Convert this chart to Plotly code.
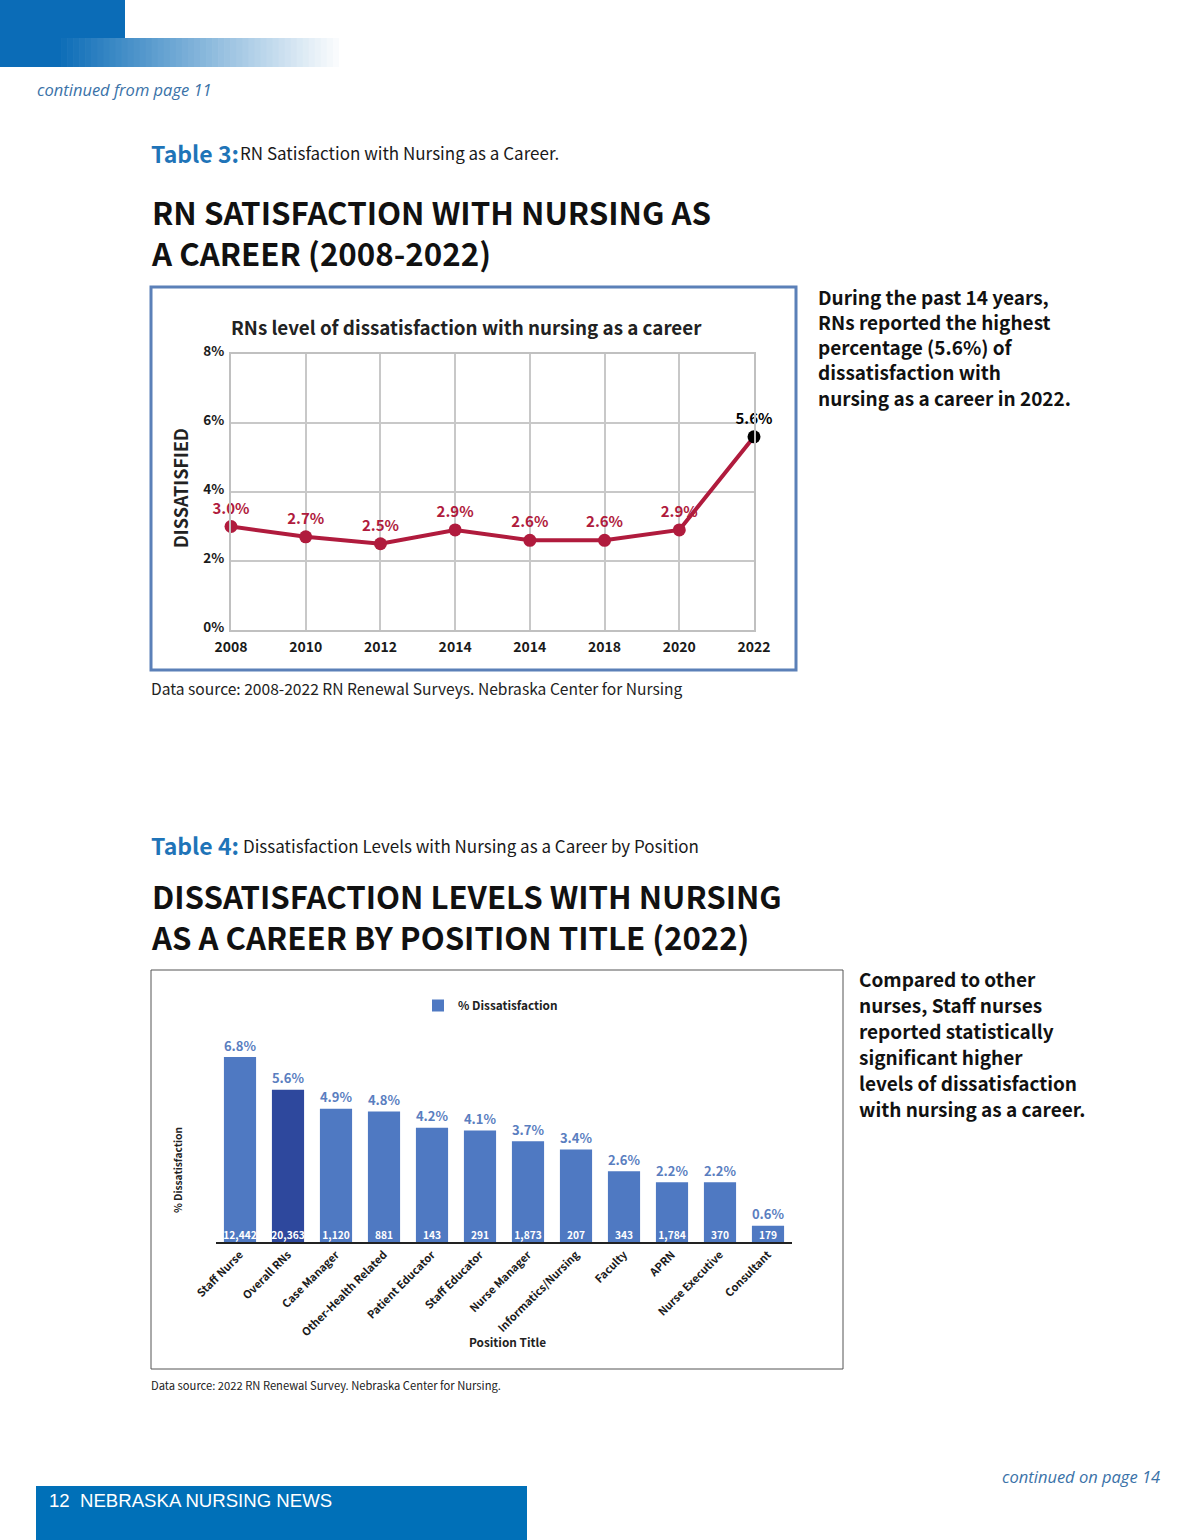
import plotly.graph_objects as go

# ---------------- data ----------------
year_labels = ["2008", "2010", "2012", "2014", "2014", "2018", "2020", "2022"]
dissatisfied_pct = [3.0, 2.7, 2.5, 2.9, 2.6, 2.6, 2.9, 5.6]
y_ticks_line = [0, 2, 4, 6, 8]

positions = ["Staff Nurse", "Overall RNs", "Case Manager", "Other-Health Related",
             "Patient Educator", "Staff Educator", "Nurse Manager", "Informatics/Nursing",
             "Faculty", "APRN", "Nurse Executive", "Consultant"]
position_pct = [6.8, 5.6, 4.9, 4.8, 4.2, 4.1, 3.7, 3.4, 2.6, 2.2, 2.2, 0.6]
position_n = [12442, 20363, 1120, 881, 143, 291, 1873, 207, 343, 1784, 370, 179]

W, H = 1200, 1540
def px(x): return x / W
def py(y): return 1 - y / H

SRC = "Noto Sans CJK SC, Noto Sans, sans-serif"
RED = "#b01b3d"
BLUE_LIGHT = "#4f79c2"
BLUE_DARK = "#2e489d"
LABEL_BLUE = "#5a7ebf"

fig = go.Figure()

# ---------------- line chart ----------------
xi = list(range(len(year_labels)))
marker_colors = [RED] * (len(xi) - 1) + ["#000000"]
fig.add_trace(go.Scatter(
    x=xi, y=dissatisfied_pct, mode="lines+markers+text",
    line=dict(color=RED, width=4),
    marker=dict(size=13, color=marker_colors),
    text=[f"{v:.1f}%" for v in dissatisfied_pct],
    textposition="top center",
    textfont=dict(family=SRC, size=15, color=marker_colors, weight="bold"),
    cliponaxis=False, showlegend=False, xaxis="x", yaxis="y",
))

# ---------------- bar chart ----------------
bar_colors = [BLUE_DARK if p == "Overall RNs" else BLUE_LIGHT for p in positions]
fig.add_trace(go.Bar(
    x=positions, y=position_pct, name="% Dissatisfaction",
    marker=dict(color=bar_colors, line=dict(width=0)),
    text=[f"{v:.1f}%" for v in position_pct], textposition="outside",
    textfont=dict(family=SRC, size=15, color=LABEL_BLUE, weight="bold"),
    cliponaxis=False, xaxis="x2", yaxis="y2", showlegend=True,
))
fig.add_trace(go.Scatter(
    x=positions, y=[0] * len(positions), mode="text",
    text=[f"{n:,}" for n in position_n], textposition="top center",
    textfont=dict(family=SRC, size=10.2, color="white", weight="bold"),
    cliponaxis=False, showlegend=False, xaxis="x2", yaxis="y2",
))

shapes = []
annotations = []

# header decoration
shapes.append(dict(type="rect", xref="paper", yref="paper", x0=px(0), x1=px(125),
                   y0=py(38), y1=py(0), fillcolor="#0b6cb7", line=dict(width=0), layer="below"))
n_steps = 48
x_start, x_end = 55, 345
shapes.append(dict(type="rect", xref="paper", yref="paper", x0=px(0), x1=px(x_start + 1),
                   y0=py(67), y1=py(38), fillcolor="#0b6cb7", line=dict(width=0), layer="below"))
for i in range(n_steps):
    t = i / (n_steps - 1)
    r = int(11 + (255 - 11) * t)
    g = int(108 + (255 - 108) * t)
    b = int(183 + (255 - 183) * t)
    xa = x_start + (x_end - x_start) * i / n_steps
    xb = x_start + (x_end - x_start) * (i + 1) / n_steps + 0.7
    shapes.append(dict(type="rect", xref="paper", yref="paper", x0=px(xa), x1=px(xb),
                       y0=py(67), y1=py(38), fillcolor=f"rgb({r},{g},{b})",
                       line=dict(width=0), layer="below"))

# footer
shapes.append(dict(type="rect", xref="paper", yref="paper", x0=px(36), x1=px(527),
                   y0=py(1540), y1=py(1486), fillcolor="#0070b8", line=dict(width=0), layer="below"))

# chart boxes
shapes.append(dict(type="rect", xref="paper", yref="paper", x0=px(151), x1=px(796),
                   y0=py(670), y1=py(287), line=dict(color="#5b80b8", width=3), layer="below"))
shapes.append(dict(type="rect", xref="paper", yref="paper", x0=px(151), x1=px(843),
                   y0=py(1369), y1=py(970), line=dict(color="#555555", width=1), layer="below"))

def txt(x, y, s, size, family=SRC, color="#1a1a1a", xanchor="left", yanchor="middle",
        weight="normal", style="normal", angle=0, align="left"):
    annotations.append(dict(
        x=px(x), y=py(y), xref="paper", yref="paper", text=s, showarrow=False,
        xanchor=xanchor, yanchor=yanchor, textangle=angle, align=align,
        font=dict(family=family, size=size, color=color, weight=weight, style=style)))

txt(35, 90, "continued from page 11", 16.5, family="Open Sans, sans-serif", color="#3a72a8", style="italic")
txt(1162, 1476, "continued on page 14", 16.5, family="Open Sans, sans-serif", color="#3a72a8",
    style="italic", xanchor="right")
txt(47, 1500, "12  NEBRASKA NURSING NEWS", 18.6, family="Liberation Sans, Arial, sans-serif", color="white")

# section 1 texts
txt(149, 153, "Table 3:", 23, color="#1f74b8", weight="bold")
txt(238, 153, "RN Satisfaction with Nursing as a Career.", 17, color="#1a1a1a")
txt(149, 232, "RN SATISFACTION WITH NURSING AS<br>A CAREER (2008-2022)", 31.3,
    weight="bold", color="#111111")
side1 = ["During the past 14 years,", "RNs reported the highest", "percentage (5.6%) of",
         "dissatisfaction with", "nursing as a career in 2022."]
for i, line in enumerate(side1):
    txt(816, 296 + i * 25.3, line, 19, weight="bold", color="#111111")
txt(229, 327, "RNs level of dissatisfaction with nursing as a career", 18.8, weight="bold", color="#222222")
txt(180, 488, "DISSATISFIED", 18, weight="bold", color="#222222", xanchor="center", angle=-90)
txt(149, 688, "Data source: 2008-2022 RN Renewal Surveys. Nebraska Center for Nursing", 15.6, color="#222222")

# section 2 texts
txt(149, 845, "Table 4:", 23, color="#1f74b8", weight="bold")
txt(241, 845, "Dissatisfaction Levels with Nursing as a Career by Position", 17, color="#1a1a1a")
txt(149, 916, "DISSATISFACTION LEVELS WITH NURSING<br>AS A CAREER BY POSITION TITLE (2022)", 31.2,
    weight="bold", color="#111111")
side2 = ["Compared to other", "nurses, <b>Staff nurses</b>", "reported statistically",
         "significant higher", "levels of dissatisfaction", "with nursing as a career."]
for i, line in enumerate(side2):
    txt(857, 979 + i * 25.8, line, 19, weight="bold", color="#111111")
txt(177, 1170, "% Dissatisfaction", 10.2, weight="bold", color="#222222",
    xanchor="center", angle=-90)
txt(507, 1341, "Position Title", 11.8, weight="bold", color="#222222", xanchor="center")
txt(149, 1385, "Data source: 2022 RN Renewal Survey. Nebraska Center for Nursing.", 11.2, color="#222222")

bar_top_px = 1242 - 8 * 27.2

fig.update_layout(
    width=W, height=H, autosize=False,
    margin=dict(l=0, r=0, t=0, b=0, pad=0, autoexpand=False),
    paper_bgcolor="white", plot_bgcolor="white",
    xaxis=dict(domain=[px(231), px(754)], range=[0, 7], tickvals=xi, ticktext=year_labels,
               showgrid=True, gridcolor="#c8c8c8", gridwidth=2, showline=True, linecolor="#c0c0c0",
               linewidth=2, mirror=True, zeroline=False, ticks="", automargin=False,
               ticklabelstandoff=3,
               tickfont=dict(family=SRC, size=14, color="#1a1a1a", weight="bold"), anchor="y"),
    yaxis=dict(domain=[py(630), py(354)], range=[0, 8], tickvals=y_ticks_line,
               ticktext=[f"{v}%" for v in y_ticks_line],
               showgrid=True, gridcolor="#c8c8c8", gridwidth=2, showline=True, linecolor="#c0c0c0",
               linewidth=2, mirror=True, zeroline=False, ticks="", automargin=False,
               ticklabelshift=-3, ticklabelstandoff=2,
               tickfont=dict(family=SRC, size=13.5, color="#1a1a1a", weight="bold"), anchor="x"),
    xaxis2=dict(domain=[px(216), px(792)], range=[-0.5, 11.5], showgrid=False, zeroline=False,
                showline=True, linecolor="#222222", linewidth=2, ticks="", tickangle=-45,
                automargin=False,
                tickfont=dict(family=SRC, size=11, color="#1a1a1a", weight="bold"), anchor="y2"),
    yaxis2=dict(domain=[py(1242), py(bar_top_px)], range=[0, 8], visible=False, anchor="x2",
                automargin=False),
    bargap=0.33,
    legend=dict(x=px(418), y=py(991), xanchor="left", yanchor="top", orientation="h",
                font=dict(family=SRC, size=11.8, color="#222222", weight="bold"),
                bgcolor="rgba(0,0,0,0)"),
    shapes=shapes, annotations=annotations,
)

fig.write_html("out.html", config={"displayModeBar": False},
               post_script="document.body.style.margin='0';")
